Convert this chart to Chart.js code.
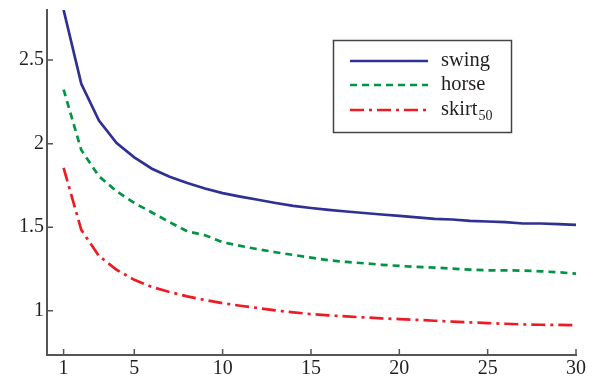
<!DOCTYPE html>
<html>
<head>
<meta charset="utf-8">
<script src="https://cdn.jsdelivr.net/npm/chart.js@4/dist/chart.umd.min.js"></script>
<style>
  html, body { margin: 0; padding: 0; background: #fff; }
  #wrap { width: 600px; height: 378px; position: relative; }
</style>
</head>
<body>
<div id="wrap"><canvas id="c"></canvas></div>
<script>
const xValues = [1,2,3,4,5,6,7,8,9,10,11,12,13,14,15,16,17,18,19,20,21,22,23,24,25,26,27,28,29,30];
const swing = [2.800,2.358,2.138,2.004,1.918,1.850,1.802,1.764,1.732,1.704,1.683,1.664,1.645,1.628,1.615,1.604,1.594,1.585,1.576,1.568,1.559,1.550,1.546,1.538,1.534,1.530,1.522,1.522,1.518,1.514];
const horse = [2.324,1.962,1.805,1.715,1.645,1.588,1.530,1.475,1.452,1.410,1.388,1.368,1.350,1.334,1.318,1.302,1.292,1.284,1.275,1.268,1.262,1.258,1.252,1.246,1.242,1.242,1.240,1.236,1.230,1.222];
const skirt = [1.855,1.484,1.328,1.245,1.185,1.142,1.112,1.086,1.064,1.045,1.030,1.016,1.002,0.990,0.980,0.972,0.966,0.960,0.954,0.950,0.945,0.940,0.935,0.930,0.926,0.922,0.918,0.916,0.915,0.914];
const xTicks = [1,5,10,15,20,25,30];
const yTicks = [1,1.5,2,2.5];
const seriesNames = ['swing','horse','skirt'];
const seriesSubs = ['','','50'];

const FONT = '"Liberation Serif", "DejaVu Serif", serif';
const AXIS_COLOR = '#555555';
const TEXT_COLOR = '#231f20';

function pts(ys){ return xValues.map((x,i)=>({x:x,y:ys[i]})); }

const inwardTicks = {
  id: 'inwardTicks',
  afterDraw(chart){
    const ctx = chart.ctx;
    const xs = chart.scales.x, ys = chart.scales.y;
    const area = chart.chartArea;
    ctx.save();
    ctx.strokeStyle = AXIS_COLOR;
    ctx.lineWidth = 1.5;
    ctx.beginPath();
    xs.ticks.forEach(t=>{
      const px = xs.getPixelForValue(t.value);
      ctx.moveTo(px, area.bottom);
      ctx.lineTo(px, area.bottom - 6);
    });
    ys.ticks.forEach(t=>{
      const py = ys.getPixelForValue(t.value);
      ctx.moveTo(area.left, py);
      ctx.lineTo(area.left + 6, py);
    });
    ctx.stroke();
    ctx.restore();
  }
};

const boxLegend = {
  id: 'boxLegend',
  afterDraw(chart){
    const ctx = chart.ctx;
    ctx.save();
    ctx.strokeStyle = '#444444';
    ctx.lineWidth = 1.5;
    ctx.strokeRect(333.5, 40.5, 178, 92);
    const rows = [61, 85, 110];
    chart.data.datasets.forEach((ds,i)=>{
      ctx.strokeStyle = ds.borderColor;
      ctx.lineWidth = ds.borderWidth;
      ctx.setLineDash(ds.borderDash || []);
      ctx.beginPath();
      ctx.moveTo(350, rows[i]);
      ctx.lineTo(428, rows[i]);
      ctx.stroke();
      ctx.setLineDash([]);
      ctx.fillStyle = TEXT_COLOR;
      ctx.textBaseline = 'alphabetic';
      ctx.textAlign = 'left';
      ctx.font = '20.5px ' + FONT;
      ctx.fillText(seriesNames[i], 441, rows[i] + 5);
      if (seriesSubs[i]) {
        const w = ctx.measureText(seriesNames[i]).width;
        ctx.font = '14px ' + FONT;
        ctx.fillText(seriesSubs[i], 441 + w + 1, rows[i] + 10);
      }
    });
    ctx.restore();
  }
};

new Chart(document.getElementById('c'), {
  type: 'line',
  data: {
    datasets: [
      { label: 'swing', data: pts(swing), borderColor: '#2e3192', borderWidth: 2.7, pointRadius: 0, tension: 0, fill: false },
      { label: 'horse', data: pts(horse), borderColor: '#009444', borderWidth: 2.7, borderDash: [7,5], pointRadius: 0, tension: 0, fill: false },
      { label: 'skirt50', data: pts(skirt), borderColor: '#ed1c24', borderWidth: 2.7, borderDash: [14,5,3,5], pointRadius: 0, tension: 0, fill: false }
    ]
  },
  options: {
    responsive: true,
    maintainAspectRatio: false,
    animation: false,
    layout: { padding: { left: 0, right: 24, top: 10, bottom: 0 } },
    plugins: { legend: { display: false }, tooltip: { enabled: false } },
    scales: {
      x: {
        type: 'linear',
        min: 0.06, max: 30,
        afterBuildTicks(scale){ scale.ticks = xTicks.map(v=>({value:v})); },
        afterFit(scale){ scale.height = 23; scale.paddingLeft = 0; scale.paddingRight = 0; },
        grid: { display: true, drawOnChartArea: false, drawTicks: false },
        border: { display: true, color: AXIS_COLOR, width: 2 },
        ticks: { color: TEXT_COLOR, font: { family: FONT, size: 20 }, padding: 2, maxRotation: 0, autoSkip: false,
                 callback: v => String(v) }
      },
      y: {
        type: 'linear',
        min: 0.735, max: 2.80,
        afterBuildTicks(scale){ scale.ticks = yTicks.map(v=>({value:v})); },
        afterFit(scale){ scale.width = 47; scale.paddingTop = 0; scale.paddingBottom = 0; },
        grid: { display: true, drawOnChartArea: false, drawTicks: false },
        border: { display: true, color: AXIS_COLOR, width: 2 },
        ticks: { color: TEXT_COLOR, font: { family: FONT, size: 20 }, padding: 3, autoSkip: false,
                 callback: v => String(v) }
      }
    }
  },
  plugins: [inwardTicks, boxLegend]
});
</script>
</body>
</html>
